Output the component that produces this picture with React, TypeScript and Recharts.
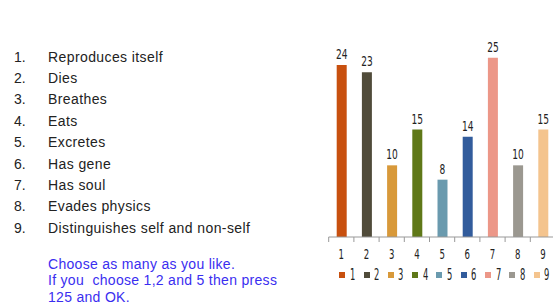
import React from "react";
import { BarChart, Bar, XAxis, YAxis, Cell, LabelList, Legend } from "recharts";

const categories = ["1", "2", "3", "4", "5", "6", "7", "8", "9"];
const votes = [24, 23, 10, 15, 8, 14, 25, 10, 15];
const colors = ["#C8500F", "#504B3A", "#D8993A", "#5F7818", "#6A9AAE", "#325C9C", "#EC9788", "#9B9890", "#F4C48E"];
const items = [
  "Reproduces itself",
  "Dies",
  "Breathes",
  "Eats",
  "Excretes",
  "Has gene",
  "Has soul",
  "Evades physics",
  "Distinguishes self and non-self",
];
const instructions = ["Choose as many as you like.", "If you  choose 1,2 and 5 then press", "125 and OK."];

const data = categories.map((c, i) => ({ name: c, value: votes[i] }));

const narrow = "'DejaVu Sans Condensed', 'DejaVu Sans', sans-serif";
const BAND = 25.2;
const LEGEND_STEP = 24.3;

const Tick = (props: any) => {
  const { x, y, payload, index } = props;
  const axisY = y;
  return (
    <g>
      <line x1={x - BAND / 2} x2={x - BAND / 2} y1={axisY} y2={axisY + 5} stroke="#999" />
      {index === categories.length - 1 && (
        <line x1={x + BAND / 2} x2={x + BAND / 2} y1={axisY} y2={axisY + 5} stroke="#999" />
      )}
      <text
        transform={`translate(${x},${axisY + 22}) scale(0.68,1)`}
        textAnchor="middle"
        fontSize={14}
        fontFamily={narrow}
        fill="#222"
      >
        {payload.value}
      </text>
    </g>
  );
};

const ValueLabel = (props: any) => {
  const { x, y, width, value } = props;
  return (
    <text
      transform={`translate(${x + width / 2},${y - 6}) scale(0.72,1)`}
      textAnchor="middle"
      fontSize={14}
      fontFamily={narrow}
      fill="#222"
    >
      {value}
    </text>
  );
};

const renderLegend = () => (
  <div style={{ position: "relative", height: 16 }}>
    {categories.map((c, i) => (
      <div
        key={c}
        style={{
          position: "absolute",
          left: i * LEGEND_STEP,
          top: 0,
          display: "flex",
          alignItems: "center",
          height: 16,
        }}
      >
        <span style={{ display: "inline-block", width: 6, height: 6, background: colors[i], marginRight: 4.5 }} />
        <span
          style={{
            display: "inline-block",
            fontFamily: narrow,
            fontSize: 15,
            lineHeight: "16px",
            color: "#222",
            transform: "scaleX(0.62)",
            transformOrigin: "left center",
          }}
        >
          {c}
        </span>
      </div>
    ))}
  </div>
);

export default function App() {
  return (
    <div
      style={{
        position: "absolute",
        left: 0,
        top: 0,
        width: 553,
        height: 305,
        overflow: "hidden",
        background: "#fff",
        fontFamily: "'Liberation Sans', Arial, sans-serif",
      }}
    >
      <div style={{ position: "absolute", left: 0, top: 46.7 }}>
        {items.map((t, i) => (
          <div
            key={i}
            style={{
              position: "absolute",
              top: i * 21.4,
              left: 0,
              height: 21,
              lineHeight: "21px",
              whiteSpace: "nowrap",
              fontSize: 14,
              color: "#222",
            }}
          >
            <span style={{ position: "absolute", left: 14 }}>{i + 1}.</span>
            <span style={{ position: "absolute", left: 48, letterSpacing: 0.4 }}>{t}</span>
          </div>
        ))}
      </div>
      <div
        style={{
          position: "absolute",
          left: 48,
          top: 256,
          fontSize: 14,
          letterSpacing: 0.3,
          color: "#3A2EF0",
          lineHeight: "16.3px",
          whiteSpace: "pre",
        }}
      >
        {instructions.map((t, i) => (
          <div key={i}>{t}</div>
        ))}
      </div>
      <div style={{ position: "absolute", left: 0, top: 0 }}>
        <BarChart width={600} height={305} data={data} margin={{ top: 22, right: 44.5, bottom: 22, left: 328.7 }}>
          <XAxis
            dataKey="name"
            stroke="#999"
            tickLine={false}
            tickSize={0}
            tickMargin={0}
            tick={<Tick />}
            height={30}
            interval={0}
          />
          <YAxis hide domain={[0, 30]} />
          <Legend
            content={renderLegend}
            wrapperStyle={{ position: "absolute", left: 339.3, top: 267, width: 213 }}
          />
          <Bar dataKey="value" barSize={10} isAnimationActive={false}>
            {data.map((d, i) => (
              <Cell key={d.name} fill={colors[i]} />
            ))}
            <LabelList dataKey="value" content={<ValueLabel />} />
          </Bar>
        </BarChart>
      </div>
    </div>
  );
}
